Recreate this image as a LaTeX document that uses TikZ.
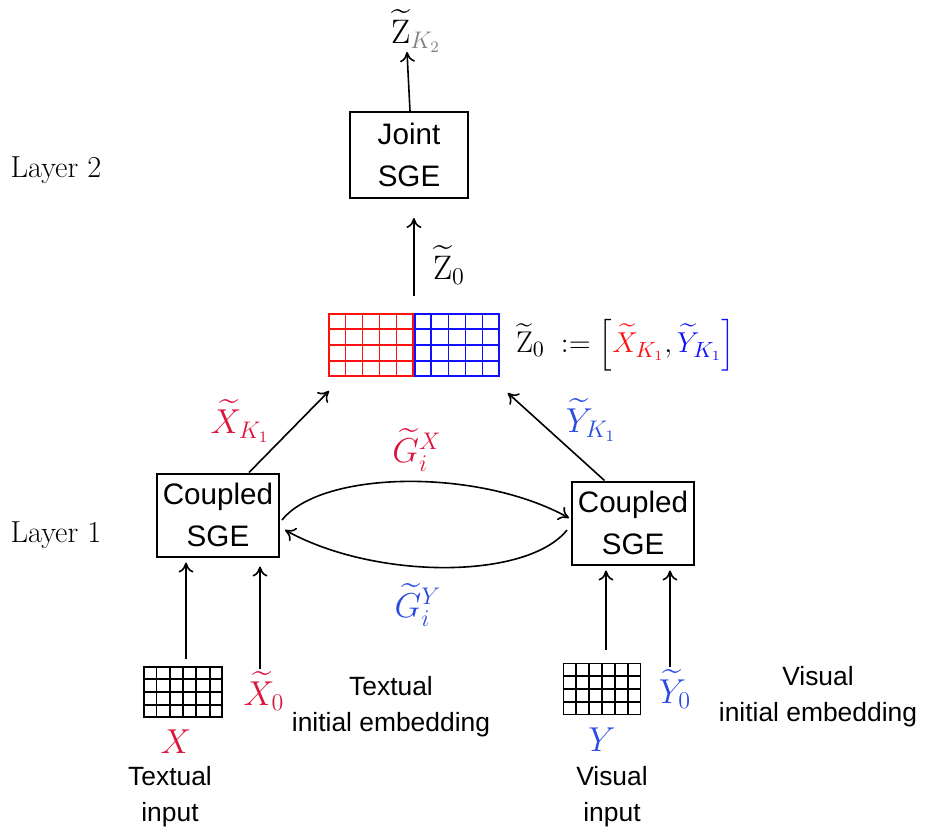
\documentclass[tikz,border=0pt]{standalone}
\usepackage{amsmath}
\usepackage{fontspec}
\setsansfont{Liberation Sans}
\usetikzlibrary{arrows.meta, positioning, calc}
\definecolor{textRed}{HTML}{DC143C}
\definecolor{visBlue}{HTML}{2A4BE0}
\definecolor{pureRed}{HTML}{FF1010}
\definecolor{pureBlue}{HTML}{1010FF}

% inner lines of a cell grid node: node name, columns, rows
\newcommand{\cellgrid}[3]{%
  \foreach \i in {1,...,\numexpr#2-1\relax}
    \draw ($(#1.south west)!\i/#2!(#1.south east)$) -- ($(#1.north west)!\i/#2!(#1.north east)$);
  \foreach \j in {1,...,\numexpr#3-1\relax}
    \draw ($(#1.south west)!\j/#3!(#1.north west)$) -- ($(#1.south east)!\j/#3!(#1.north east)$);
}

\begin{document}
\begin{tikzpicture}[
    x=0.5pt, y=-0.5pt,
    sgebox/.style={rectangle, draw, line width=1pt, align=center, inner sep=0pt,
                   minimum width=61pt, minimum height=41.5pt,
                   font=\sffamily\fontsize{14.8}{21}\selectfont},
    matgrid/.style={rectangle, draw, inner sep=0pt, line width=0.9pt},
    caption/.style={align=center, font=\sffamily\fontsize{13.2}{18}\selectfont},
    mathlab/.style={inner sep=1pt, font=\fontsize{17}{20}\selectfont},
    layerlab/.style={font=\fontsize{15.2}{18}\selectfont},
    arrow/.style={-{To[length=5pt, width=7.5pt]}, line width=0.8pt}
]
\useasboundingbox (0,0) rectangle (925,835);

% layer names
\node[layerlab] (layer2) at (56,170) {Layer 2};
\node[layerlab] (layer1) at (56,535) {Layer 1};

% SGE boxes
\node[sgebox, minimum width=59pt, minimum height=43pt] (jsge) at (409,155) {Joint\\SGE};
\node[sgebox] (lsge) at (218,515) {Coupled\\SGE};
\node[sgebox] (rsge) at (633,523) {Coupled\\SGE};

% concatenated embedding grid
\node[matgrid, draw=pureRed, minimum width=42pt, minimum height=31pt] (zred) at (371,345) {};
\node[matgrid, draw=pureBlue, minimum width=42pt, minimum height=31pt, right=0pt of zred] (zblue) {};
\begin{scope}[pureRed, line width=0.7pt]
  \cellgrid{zred}{5}{4}
\end{scope}
\begin{scope}[pureBlue, line width=0.7pt]
  \cellgrid{zblue}{5}{4}
\end{scope}
\node[mathlab, font=\fontsize{15}{18}\selectfont, right=7pt of zblue] (zdef)
  {$\widetilde{\mathrm{Z}}_0\; := \left[\color{pureRed}\widetilde{X}_{K_1}\color{black},\color{pureBlue}\widetilde{Y}_{K_1}\right]$};

% input grids
\node[matgrid, minimum width=39pt, minimum height=25pt] (xmat) at (183,692) {};
\node[matgrid, minimum width=38.5pt, minimum height=25.5pt] (ymat) at (602,689) {};
\begin{scope}[line width=0.9pt]
  \cellgrid{xmat}{6}{4}
  \cellgrid{ymat}{6}{4}
\end{scope}

% math labels
\node[mathlab] (zk2) at (416,31) {$\widetilde{\mathrm{Z}}_{\color{gray}K_2}$};
\coordinate (zk2tip) at (407,52);
\node[mathlab] (z0) at (449,265) {$\widetilde{\mathrm{Z}}_0$};
\node[mathlab, textRed] (xk1) at (240,421) {$\widetilde{X}_{K_1}$};
\node[mathlab, visBlue] (yk1) at (591,420) {$\widetilde{Y}_{K_1}$};
\node[mathlab, textRed] (gx) at (417,450) {$\widetilde{G}_i^X$};
\node[mathlab, visBlue] (gy) at (418,605) {$\widetilde{G}_i^Y$};
\node[mathlab, textRed] (x0) at (264,691) {$\widetilde{X}_0$};
\node[mathlab, visBlue] (y0) at (675,689) {$\widetilde{Y}_0$};
\node[mathlab, textRed] (xin) at (176,742) {$X$};
\node[mathlab, visBlue] (yin) at (602,740) {$Y$};

% captions
\node[caption] (xcap) at (170,797) {Textual\\input};
\node[caption] (ycap) at (612,797) {Visual\\input};
\node[caption] (xemb) at (391,707) {Textual\\initial embedding};
\node[caption] (yemb) at (818,697) {Visual\\initial embedding};

% connectors
\draw[arrow] ($(jsge.north)+(1,0)$) -- (zk2tip);
\draw[arrow, shorten <=8.5pt, shorten >=9.5pt] (zred.north east) -- (jsge.south -| zred.north east);
\draw[arrow] ($(lsge.north west)!0.75!(lsge.north east)$) -- ($(zred.south west)+(1,14)$);
\draw[arrow] ($(rsge.north west)!0.27!(rsge.north east)$) -- ($(zblue.south east)+(8,16)$);
\draw[arrow] ($(lsge.east)+(2,5)$) .. controls +(40,-50) and +(-90,-50) .. ($(rsge.west)+(-2,-5)$);
\draw[arrow] ($(rsge.west)+(-4,7)$) .. controls +(-40,50) and +(90,50) .. ($(lsge.east)+(5,15)$);
\draw[arrow, shorten <=3.5pt, shorten >=2.5pt] ($(xmat.north)+(3,0)$) -- ($(lsge.south)+(-32,0)$);
\draw[arrow, shorten >=4.5pt] ($(x0.north)+(-4,0)$) -- ($(lsge.south)+(42,0)$);
\draw[arrow, shorten <=6.5pt, shorten >=2.5pt] ($(ymat.north)+(4,0)$) -- ($(rsge.south)+(-27,0)$);
\draw[arrow, shorten >=2.5pt] ($(y0.north)+(-5,0)$) -- ($(rsge.south)+(37,0)$);

\end{tikzpicture}
\end{document}
